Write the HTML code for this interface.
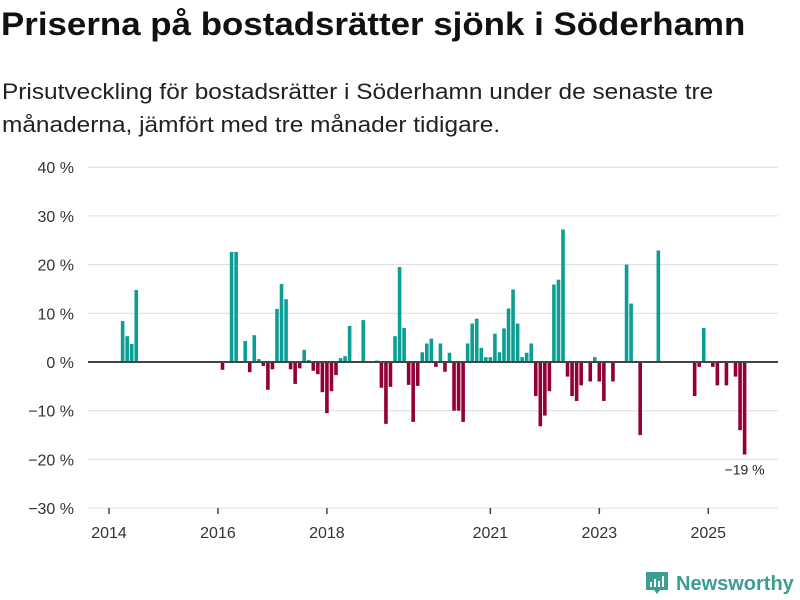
<!DOCTYPE html>
<html><head><meta charset="utf-8"><style>
body{margin:0;background:#fff;font-family:"Liberation Sans",sans-serif;}
#wrap{position:relative;width:800px;height:600px;overflow:hidden;}
h1{position:absolute;left:1px;top:6px;margin:0;font-size:32px;font-weight:bold;color:#111;white-space:nowrap;transform:scaleX(1.09);transform-origin:0 0;}
.sub{position:absolute;left:2px;margin:0;font-size:22px;color:#222;white-space:nowrap;transform:scaleX(1.11);transform-origin:0 0;}
</style></head><body>
<div id="wrap">
<h1>Priserna på bostadsrätter sjönk i Söderhamn</h1>
<div class="sub" style="top:79px">Prisutveckling för bostadsrätter i Söderhamn under de senaste tre</div>
<div class="sub" style="top:112px">månaderna, jämfört med tre månader tidigare.</div>
<svg id="chart" width="800" height="600" style="position:absolute;left:0;top:0"></svg>
</div>
<script>
const monthIndex=[3,4,5,6,25,27,28,30,31,32,33,34,35,36,37,38,39,40,41,42,43,44,45,46,47,48,49,50,51,52,53,56,59,60,61,62,63,64,65,66,67,68,69,70,71,72,73,74,75,76,77,78,79,80,81,82,83,84,85,86,87,88,89,90,91,92,93,94,95,96,97,98,99,100,101,102,103,104,106,107,108,109,111,114,115,117,121,129,130,131,133,134,136,138,139,140];
const changeValues=[8.4,5.3,3.7,14.8,-1.6,22.6,22.6,4.3,-2.1,5.5,0.6,-0.8,-5.7,-1.5,10.9,16,12.9,-1.5,-4.5,-1.3,2.5,0.4,-1.8,-2.5,-6.2,-10.5,-6,-2.7,0.8,1.2,7.4,8.6,0.3,-5.3,-12.7,-5.1,5.3,19.5,7,-4.7,-12.3,-4.9,2,3.8,4.8,-1,3.8,-2,1.9,-10,-10,-12.3,3.8,7.9,8.9,2.9,1,1,5.8,2,6.9,11,14.9,7.9,1,1.9,3.8,-7,-13.2,-11,-6,15.9,16.9,27.2,-3,-7,-8,-4.8,-4,1,-4,-8,-4,20,12,-15,22.9,-7,-1,7,-1,-4.8,-4.8,-3,-14,-19];
const yTicks=[40,30,20,10,0,-10,-20,-30];
const yTickLabels=["40 %","30 %","20 %","10 %","0 %","−10 %","−20 %","−30 %"];
const xTickMonths=[0,24,48,84,108,132];
const xTickLabels=["2014","2016","2018","2021","2023","2025"];
const lastLabel="−19 %";

const svg=document.getElementById('chart');const NS='http://www.w3.org/2000/svg';
const y=v=>362-v*4.87;
const x=m=>109+m*4.54;
function mk(t,a,p){const e=document.createElementNS(NS,t);for(const k in a)e.setAttribute(k,a[k]);(p||svg).appendChild(e);return e;}
yTicks.forEach((t,i)=>{
 if(t!==0){const g=mk('line',{x1:88,x2:778,y1:y(t),y2:y(t),stroke:'#dedede','stroke-width':1});
 
 }
 const l=mk('text',{x:74,y:y(t)+6,'text-anchor':'end','font-size':16,fill:'#333','font-family':'Liberation Sans, sans-serif'});
 
 
 l.textContent=yTickLabels[i];
});
xTickMonths.forEach((m,i)=>{
 const t=mk('line',{x1:x(m),x2:x(m),y1:508,y2:514,stroke:'#444','stroke-width':1.5});
 
 
 const l=mk('text',{x:x(m),y:538,'text-anchor':'middle','font-size':16,fill:'#333','font-family':'Liberation Sans, sans-serif'});
 
 
 l.textContent=xTickLabels[i];
});
monthIndex.forEach((m,i)=>{
 const v=changeValues[i];
 const r=mk('rect',{x:x(m)-1.8,width:3.6,y:Math.min(y(v),y(0)),height:Math.abs(y(v)-y(0)),fill:v>=0?'#0c9e94':'#930038'});
 
 
});
const z=mk('line',{x1:88,x2:778,y1:y(0),y2:y(0),stroke:'#444','stroke-width':2});


const li=monthIndex.length-1;
const ll=mk('text',{x:x(monthIndex[li]),y:y(changeValues[li])+20,'text-anchor':'middle','font-size':14,fill:'#222','font-family':'Liberation Sans, sans-serif'});


ll.textContent=lastLabel;
const lg=mk('g',{});


mk('path',{d:'M646 572 h22 v18 h-8 l-3 4 l-3 -4 h-8 z',fill:'#3a9e93'},lg);
mk('rect',{x:650,y:582,width:2,height:5,fill:'#fff'},lg);
mk('rect',{x:654,y:579,width:2,height:8,fill:'#fff'},lg);
mk('rect',{x:658,y:581,width:2,height:6,fill:'#fff'},lg);
mk('rect',{x:662,y:576,width:2,height:11,fill:'#fff'},lg);
const lt=mk('text',{x:676,y:590,'font-size':20,'font-weight':'bold',fill:'#3a9e93','font-family':'Liberation Sans, sans-serif'},lg);
lt.textContent='Newsworthy';
</script>
</body></html>
